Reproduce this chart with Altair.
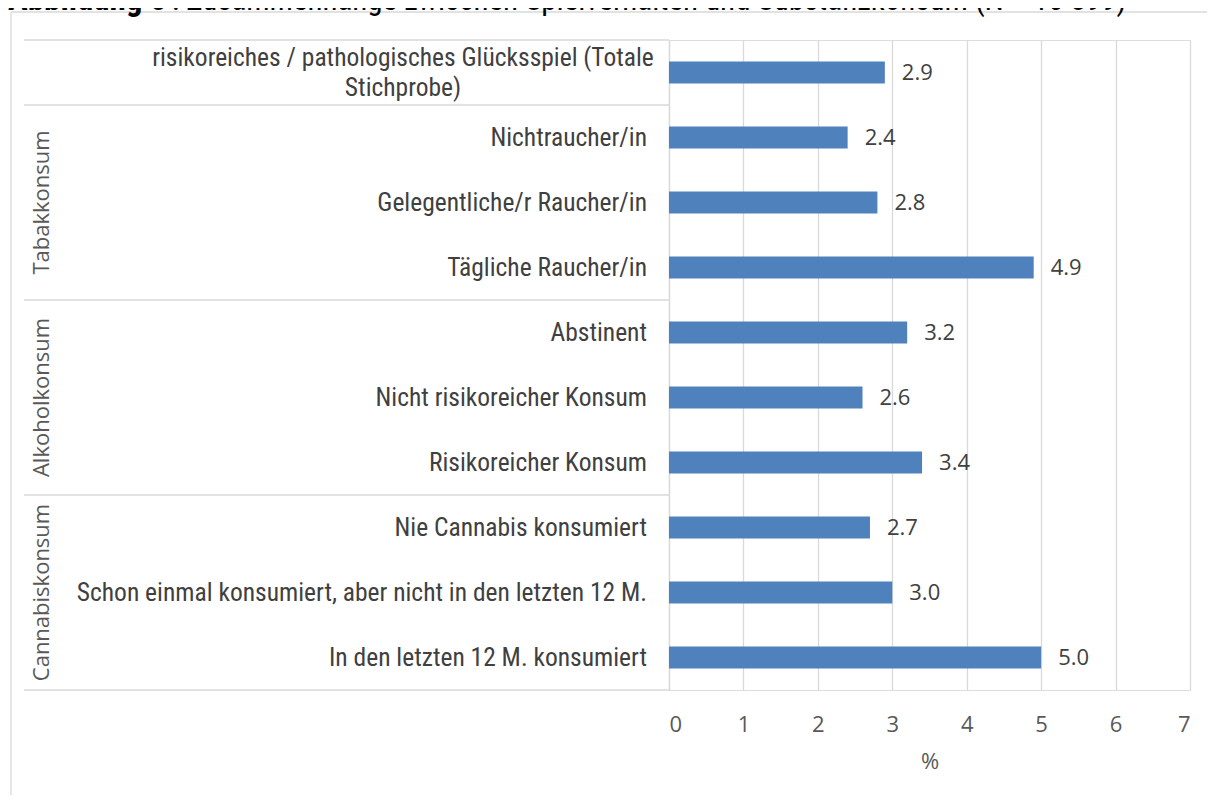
import altair as alt
import pandas as pd

# ---- data ----
categories = [
    "risikoreiches / pathologisches Glücksspiel (Totale Stichprobe)",
    "Nichtraucher/in",
    "Gelegentliche/r Raucher/in",
    "Tägliche Raucher/in",
    "Abstinent",
    "Nicht risikoreicher Konsum",
    "Risikoreicher Konsum ",
    "Nie Cannabis konsumiert ",
    "Schon einmal konsumiert, aber nicht in den letzten 12 M.",
    "In den letzten 12 M. konsumiert ",
]
values = [2.9, 2.4, 2.8, 4.9, 3.2, 2.6, 3.4, 2.7, 3.0, 5.0]
groups = ["", "Tabakkonsum", "Tabakkonsum", "Tabakkonsum",
          "Alkoholkonsum", "Alkoholkonsum", "Alkoholkonsum",
          "Cannabiskonsum", "Cannabiskonsum", "Cannabiskonsum"]
group_names = ["Tabakkonsum", "Alkoholkonsum", "Cannabiskonsum"]
x_ticks = [0, 1, 2, 3, 4, 5, 6, 7]
x_title = "%"
title_bold = "Abbildung 8"
title_rest = ": Zusammenhänge zwischen Spielverhalten und Substanzkonsum (N = 10 899)"

# ---- tables built from the lists ----
df = pd.DataFrame({"cat": categories, "value": values, "group": groups})
df["label"] = [c.rstrip() + ("\u00a0" if c.endswith(" ") else "") for c in categories]
df["label_wrapped"] = df["label"].str.replace(" (Totale Stichprobe)", " (Totale\nStichprobe)", regex=False)

# middle row of each group carries the group label
mid_rows = []
for g in group_names:
    rows = [c for c, gg in zip(categories, groups) if gg == g]
    mid_rows.append({"cat": rows[len(rows) // 2], "group": g})
df_groups = pd.DataFrame(mid_rows)

# boundaries of the group blocks
top_bounds = [categories[0]] + [categories[i] for i in range(1, len(groups)) if groups[i] != groups[i - 1]]
df_top = pd.DataFrame({"cat": top_bounds})
df_bottom = pd.DataFrame({"cat": [categories[-1]]})

LABEL_FONT = "Liberation Sans Narrow, Roboto Condensed, DejaVu Sans Condensed, sans-serif"
NUM_FONT = "Open Sans, Noto Sans, sans-serif"
GRID = "#d9d9d9"
TXT = "#404040"

yscale = alt.Scale(domain=categories, paddingInner=0, paddingOuter=0)
xscale = alt.Scale(domain=[0, 7], nice=False, zero=True)

base = alt.Chart(df)
one = pd.DataFrame({"k": [0]})

y_enc = alt.Y("cat:N", scale=yscale, sort=categories,
              axis=alt.Axis(labels=False, ticks=False, domain=True, domainColor=GRID,
                            domainWidth=1.3, title=None, grid=False))

# outer chart frame (top and left edges; the rest runs off the picture)
frame_top = alt.Chart(one).mark_rule(color=GRID, strokeWidth=1.3).encode(
    x=alt.value(-658), x2=alt.value(538), y=alt.value(-28))
frame_left = alt.Chart(one).mark_rule(color=GRID, strokeWidth=1.3).encode(
    x=alt.value(-658), y=alt.value(-28), y2=alt.value(755))

bars = base.mark_bar(height=22, color="#4f81bd").encode(
    x=alt.X("value:Q", scale=xscale,
            axis=alt.Axis(values=x_ticks, format="d", grid=True, gridColor=GRID, gridWidth=1.3,
                          domain=False, ticks=False, labelFontSize=22, labelFont=NUM_FONT,
                          labelColor="#595959", labelPadding=24, title=x_title,
                          titleFont=NUM_FONT, titleFontSize=22, titleFontWeight="normal",
                          titleColor="#595959", titlePadding=16)),
    y=y_enc,
)

value_labels = base.mark_text(
    align="left", baseline="middle", dx=17, fontSize=22, font=NUM_FONT, color=TXT
).encode(x="value:Q", y=alt.Y("cat:N", sort=categories), text=alt.Text("value:Q", format=".1f"))

cat_labels = alt.Chart(df.iloc[1:]).mark_text(
    align="right", baseline="middle", fontSize=25.5, font=LABEL_FONT, color=TXT
).encode(x=alt.value(-22), y=alt.Y("cat:N", sort=categories), text="label:N")

first_label = alt.Chart(df.iloc[:1]).mark_text(
    align="center", baseline="middle", fontSize=25.5, font=LABEL_FONT, color=TXT,
    lineBreak="\n", lineHeight=30, dy=-15
).encode(x=alt.value(-266), y=alt.Y("cat:N", sort=categories), text="label_wrapped:N")

group_labels = alt.Chart(df_groups).mark_text(
    angle=270, align="center", baseline="middle", fontSize=22, font=NUM_FONT, color="#595959"
).encode(x=alt.value(-627), y=alt.Y("cat:N", sort=categories), text="group:N")

top_rules = alt.Chart(df_top).mark_rule(color=GRID, strokeWidth=1.3).encode(
    x=alt.value(-645), x2=alt.value(0), y=alt.Y("cat:N", sort=categories, bandPosition=0)
)
bottom_rule = alt.Chart(df_bottom).mark_rule(color=GRID, strokeWidth=1.3).encode(
    x=alt.value(-645), x2=alt.value(0), y=alt.Y("cat:N", sort=categories, bandPosition=1)
)

title_a = alt.Chart(pd.DataFrame({"t": [title_bold]})).mark_text(
    align="left", baseline="alphabetic", fontSize=33, font=LABEL_FONT, fontWeight="bold", color="#000000"
).encode(x=alt.value(-661), y=alt.value(-30), text="t:N")
title_b = alt.Chart(pd.DataFrame({"t": [title_rest]})).mark_text(
    align="left", baseline="alphabetic", fontSize=31, font=LABEL_FONT, color="#000000"
).encode(x=alt.value(-497), y=alt.value(-30), text="t:N")

chart = alt.layer(
    frame_top, frame_left, top_rules, bottom_rule, bars, value_labels, cat_labels,
    first_label, group_labels, title_a, title_b
).properties(
    width=521, height=650,
    padding={"left": 661, "top": 32, "right": 17, "bottom": 105},
    autosize=alt.AutoSizeParams(type="none"),
).configure_view(stroke=None).configure(background="white")

chart.save("out.html", embed_options={"renderer": "svg", "actions": False})
